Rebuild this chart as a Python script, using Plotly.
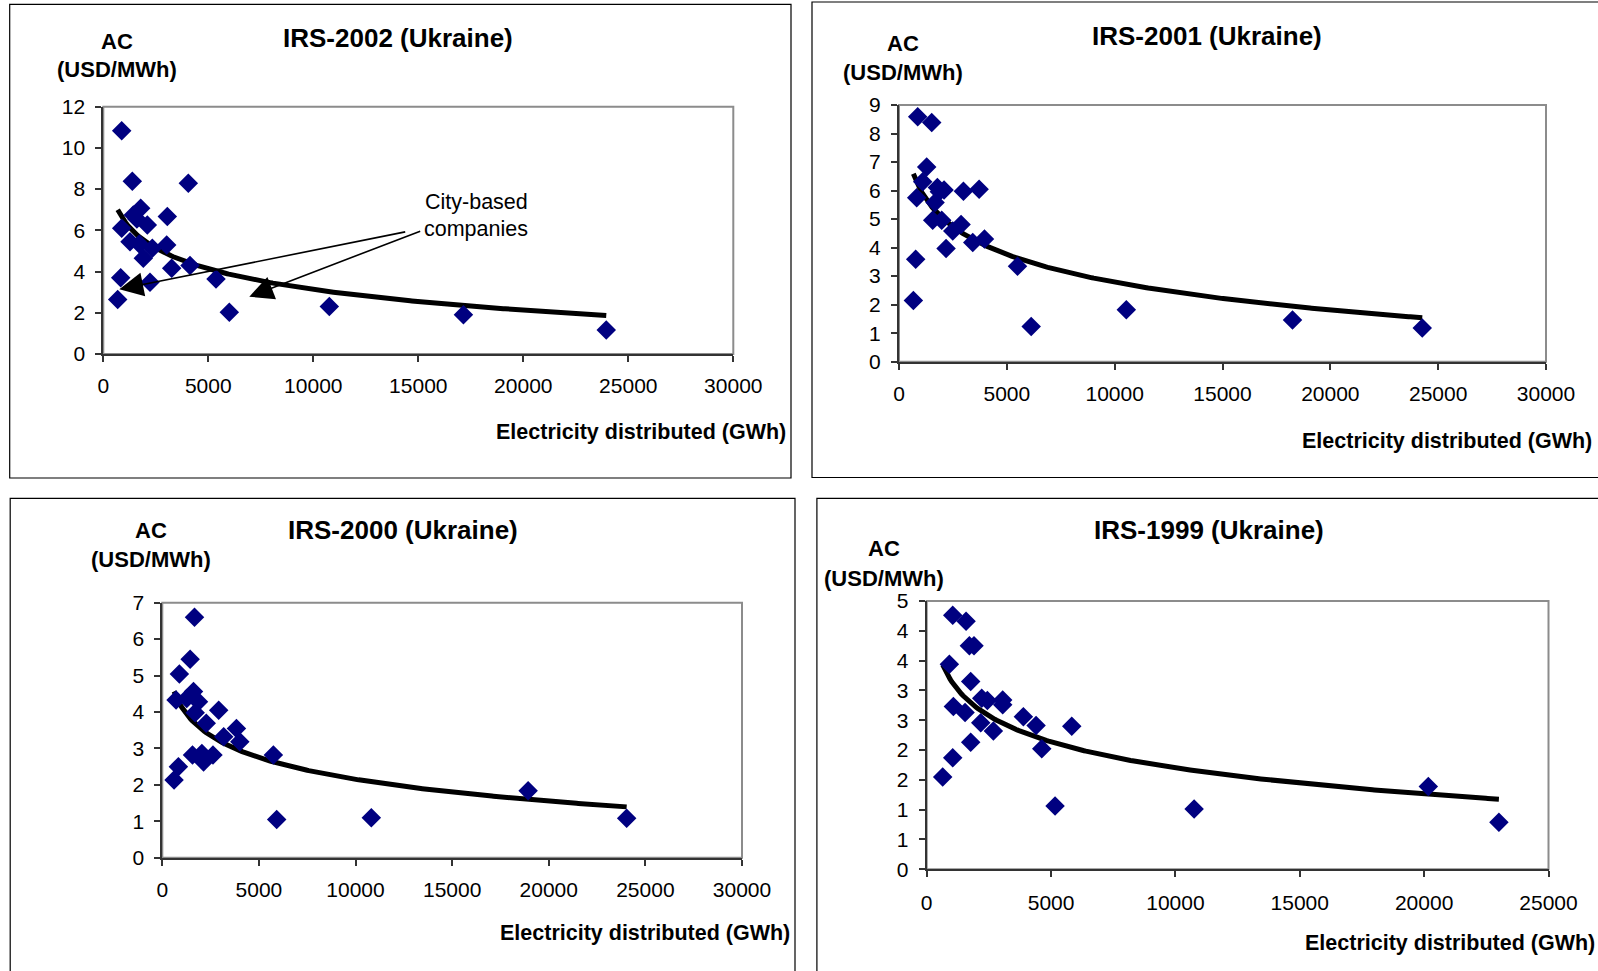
import numpy as np
import plotly.graph_objects as go

# ---------------- data ----------------
x_2002 = [876, 1381, 4048, 1781, 1429, 1600, 2095, 876, 3048, 1271, 1714, 2333, 3019, 1905,
          3257, 4129, 2224, 5367, 829, 686, 6000, 10762, 17150, 23951]
y_2002 = [10.83, 8.38, 8.29, 7.07, 6.75, 6.55, 6.26, 6.10, 6.67, 5.45, 5.34, 5.13, 5.29, 4.65,
          4.16, 4.29, 3.48, 3.64, 3.70, 2.65, 2.02, 2.30, 1.90, 1.17]

x_2001 = [867, 1517, 1285, 1099, 820, 1780, 2090, 1873, 2988, 3715, 1672, 1563, 1981, 2492,
          2879, 3421, 3963, 2183, 774, 5495, 666, 6130, 10539, 18245, 24262]
y_2001 = [8.59, 8.39, 6.83, 6.31, 5.75, 6.11, 6.02, 5.96, 5.98, 6.05, 5.58, 4.96, 4.96, 4.58,
          4.81, 4.18, 4.30, 3.97, 3.59, 3.35, 2.15, 1.23, 1.82, 1.46, 1.18]

x_2000 = [1667, 1441, 885, 1615, 712, 1267, 1875, 1701, 2274, 2917, 3177, 3837, 4010, 1563,
          2049, 2135, 2622, 5747, 833, 608, 5920, 10818, 18932, 24031]
y_2000 = [6.60, 5.45, 5.04, 4.56, 4.33, 4.37, 4.28, 3.98, 3.69, 4.05, 3.32, 3.55, 3.18, 2.82,
          2.86, 2.63, 2.82, 2.82, 2.50, 2.13, 1.05, 1.10, 1.84, 1.08]

x_1999 = [1046, 1582, 1716, 1903, 912, 1769, 2212, 2440, 3056, 3056, 1072, 1542, 2172, 3887,
          4397, 2681, 4625, 5831, 1769, 1046, 643, 5161, 10752, 20168, 23006]
y_1999 = [4.26, 4.16, 3.75, 3.75, 3.44, 3.15, 2.87, 2.83, 2.84, 2.76, 2.73, 2.63, 2.46, 2.56,
          2.41, 2.32, 2.02, 2.40, 2.13, 1.87, 1.55, 1.06, 1.01, 1.39, 0.79]

titles = ["IRS-2002 (Ukraine)", "IRS-2001 (Ukraine)", "IRS-2000 (Ukraine)", "IRS-1999 (Ukraine)"]
y_title_1 = "AC"
y_title_2 = "(USD/MWh)"
x_title = "Electricity distributed (GWh)"
note_line_1 = "City-based"
note_line_2 = "companies"

xticks_30k = [0, 5000, 10000, 15000, 20000, 25000, 30000]
xticks_25k = [0, 5000, 10000, 15000, 20000, 25000]
yticks_2002 = [0, 2, 4, 6, 8, 10, 12]
yticks_2001 = [0, 1, 2, 3, 4, 5, 6, 7, 8, 9]
yticks_2000 = [0, 1, 2, 3, 4, 5, 6, 7]
yticks_1999 = [0, 0.5, 1, 1.5, 2, 2.5, 3, 3.5, 4, 4.5]
ytext_1999 = ["0", "1", "1", "2", "2", "3", "3", "4", "4", "5"]

# ---------------- layout helpers ----------------
W, H = 1598, 971
FONT = "Liberation Sans, Arial, Helvetica, sans-serif"
NAVY = "#000080"


def px(x, y):
    return x / W, 1 - y / H


panels = [
    dict(x=x_2002, y=y_2002, rect=(103.3, 106.7, 733.3, 354.0), xr=[0, 30000], xt=xticks_30k,
         yr=[0, 12], yt=yticks_2002, ytt=[str(v) for v in yticks_2002], xso=6,
         title=(398.3, 37.5), ac=(117.4, 41.2), usd=(117.2, 69.5), xl=(788, 432),
         box=(9.7, 4.3, 791.0, 478.0)),
    dict(x=x_2001, y=y_2001, rect=(899.0, 105.0, 1546.0, 361.7), xr=[0, 30000], xt=xticks_30k,
         yr=[0, 9], yt=yticks_2001, ytt=[str(v) for v in yticks_2001], xso=6,
         title=(1206.5, 35.7), ac=(903.0, 43.8), usd=(903.0, 72.3), xl=(1594, 441),
         box=(812.0, 2.0, 1605.0, 477.5)),
    dict(x=x_2000, y=y_2000, rect=(162.3, 602.7, 742.0, 857.7), xr=[0, 30000], xt=xticks_30k,
         yr=[0, 7], yt=yticks_2000, ytt=[str(v) for v in yticks_2000], xso=6,
         title=(402.5, 530.0), ac=(150.8, 530.0), usd=(150.8, 559.4), xl=(792, 932.5),
         box=(10.2, 498.3, 795.0, 980.0)),
    dict(x=x_1999, y=y_1999, rect=(926.7, 601.0, 1548.5, 869.3), xr=[0, 25000], xt=xticks_25k,
         yr=[0, 4.5], yt=yticks_1999, ytt=ytext_1999, xso=7,
         title=(1209.0, 530.0), ac=(884.4, 548.0), usd=(884.4, 578.5), xl=(1597, 943),
         box=(816.9, 498.3, 1605.0, 980.0)),
]

fig = go.Figure()
shapes = []
annotations = []

for i, p in enumerate(panels, start=1):
    sfx = "" if i == 1 else str(i)
    xa, ya = "x" + sfx, "y" + sfx
    x0, y0, x1, y1 = p["rect"]

    xs = np.array(p["x"], dtype=float)
    ys = np.array(p["y"], dtype=float)
    # logarithmic trendline fitted to the points (as the spreadsheet does)
    b, a = np.polyfit(np.log(xs), ys, 1)
    xt = np.linspace(xs.min(), xs.max(), 300)
    fig.add_trace(go.Scatter(x=xt, y=a + b * np.log(xt), mode="lines",
                             line=dict(color="black", width=5), xaxis=xa, yaxis=ya,
                             hoverinfo="skip", showlegend=False))
    fig.add_trace(go.Scatter(x=p["x"], y=p["y"], mode="markers",
                             marker=dict(symbol="diamond", size=15, color=NAVY,
                                         line=dict(width=0)),
                             xaxis=xa, yaxis=ya, showlegend=False))

    axis_common = dict(showgrid=False, zeroline=False, showline=True, linecolor="#333333",
                       linewidth=2, ticks="outside", ticklen=6, tickwidth=1.5,
                       tickcolor="#333333", tickfont=dict(family=FONT, size=21, color="black"),
                       mirror=False, automargin=False)
    fig.layout["xaxis" + sfx] = dict(axis_common, domain=[x0 / W, x1 / W], range=p["xr"],
                                     tickvals=p["xt"], ticktext=[str(v) for v in p["xt"]],
                                     anchor=ya, ticklabelstandoff=p["xso"])
    fig.layout["yaxis" + sfx] = dict(axis_common, domain=[1 - y1 / H, 1 - y0 / H], range=p["yr"],
                                     tickvals=p["yt"], ticktext=p["ytt"], anchor=xa,
                                     ticklabelstandoff=6)

    shapes.append(dict(type="rect", xref="paper", yref="paper",
                       x0=x0 / W, x1=x1 / W, y0=1 - y1 / H, y1=1 - y0 / H,
                       line=dict(color="#8c8c8c", width=2), layer="below"))
    bx0, by0, bx1, by1 = p["box"]
    shapes.append(dict(type="rect", xref="paper", yref="paper",
                       x0=bx0 / W, x1=bx1 / W, y0=1 - by1 / H, y1=1 - by0 / H,
                       line=dict(color="black", width=1.2), layer="below"))

    tx, ty = px(*p["title"])
    annotations.append(dict(text=titles[i - 1], x=tx, y=ty, xref="paper", yref="paper",
                            showarrow=False, xanchor="center", yanchor="middle",
                            font=dict(family=FONT, size=26, color="black", weight="bold")))
    for key, txt in (("ac", y_title_1), ("usd", y_title_2)):
        ax_, ay_ = px(*p[key])
        annotations.append(dict(text=txt, x=ax_, y=ay_, xref="paper", yref="paper",
                                showarrow=False, xanchor="center", yanchor="middle",
                                font=dict(family=FONT, size=22, color="black", weight="bold")))
    lx, ly = px(*p["xl"])
    annotations.append(dict(text=x_title, x=lx, y=ly, xref="paper", yref="paper",
                            showarrow=False, xanchor="right", yanchor="middle",
                            font=dict(family=FONT, size=21.5, color="black", weight="bold")))

for txt, (cx, cy) in ((note_line_1, (476.0, 202.0)), (note_line_2, (476.4, 228.5))):
    nx, ny = px(cx, cy)
    annotations.append(dict(text=txt, x=nx, y=ny, xref="paper", yref="paper",
                            showarrow=False, xanchor="center", yanchor="middle",
                            font=dict(family=FONT, size=21.5, color="black")))
for (tipx, tipy, tailx, taily) in ((762, 3.14, 14448, 5.94), (6952, 2.78, 15162, 5.99)):
    annotations.append(dict(text="", x=tipx, y=tipy, ax=tailx, ay=taily, xref="x", yref="y",
                            axref="x", ayref="y", showarrow=True, arrowhead=2,
                            arrowsize=3, arrowwidth=1.6, arrowcolor="black", standoff=0))

fig.update_layout(width=W, height=H,
                  margin=dict(l=0, r=0, t=0, b=0, pad=0, autoexpand=False),
                  paper_bgcolor="white", plot_bgcolor="white",
                  shapes=shapes, annotations=annotations, showlegend=False,
                  font=dict(family=FONT, color="black"))

post = ("document.documentElement.style.margin='0';document.documentElement.style.overflow='hidden';"
        "document.body.style.margin='0';document.body.style.padding='0';"
        "document.body.style.overflow='hidden';"
        "var d=document.getElementById('{plot_id}');d.style.position='fixed';"
        "d.style.left='0px';d.style.top='0px';")
fig.write_html("out.html", config={"displayModeBar": False}, post_script=post)
